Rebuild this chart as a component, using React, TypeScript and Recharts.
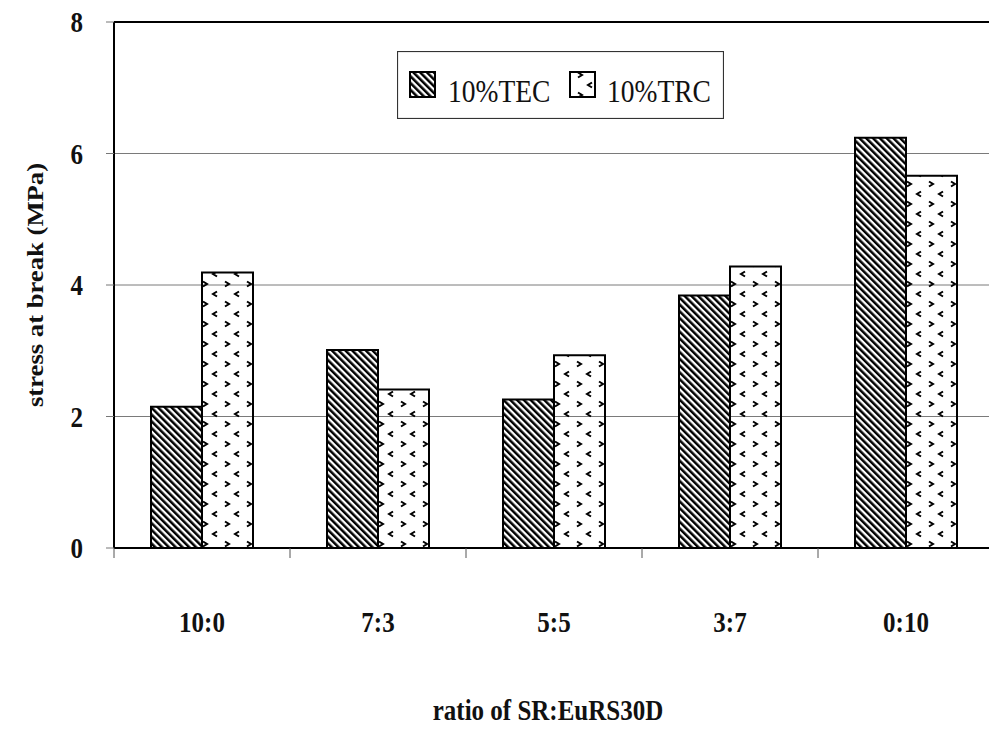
import React from "react";
import { BarChart, Bar, XAxis, YAxis, CartesianGrid, ReferenceLine, Legend } from "recharts";

const CATEGORIES = ["10:0", "7:3", "5:5", "3:7", "0:10"];
const TEC = [2.15, 3.01, 2.26, 3.84, 6.24];
const TRC = [4.19, 2.41, 2.93, 4.28, 5.66];
const Y_TICKS = [0, 2, 4, 6, 8];
const SERIES = ["10%TEC", "10%TRC"];

const data = CATEGORIES.map((ratio, i) => ({ ratio, tec: TEC[i], trc: TRC[i] }));

const FONT = '"Liberation Serif", "Times New Roman", serif';
const STRETCH = 1.16; // the scan is taller than it is wide

// hatch + chevron fills, shared by bars and legend
const Patterns = () => (
  <svg width={0} height={0} style={{ position: "absolute" }}>
    <defs>
      <pattern id="tecHatch" patternUnits="userSpaceOnUse" width={4.8} height={4.8} patternTransform="rotate(-45)">
        <rect x={0} y={0} width={4.8} height={4.8} fill="#fff" />
        <rect x={0} y={0} width={2.5} height={4.8} fill="#000" />
      </pattern>
      <pattern id="trcDots" patternUnits="userSpaceOnUse" width={22} height={20}>
        <path d="M5,1.5 L9,4 L5,6.5" stroke="#000" strokeWidth={2} fill="none" />
        <path d="M19,11.5 L15,14 L19,16.5" stroke="#000" strokeWidth={2} fill="none" />
      </pattern>
    </defs>
  </svg>
);

const XTick = (props: any) => {
  const { x, y, payload, width } = props;
  const band = (width || 880) / CATEGORIES.length;
  return (
    <g>
      <line x1={x - band / 2} x2={x - band / 2} y1={y} y2={y + 10} stroke="#555" strokeWidth={1} />
      <text
        transform={`translate(${x},${y + 84}) scale(1,${STRETCH})`}
        textAnchor="middle"
        fontFamily={FONT}
        fontWeight="bold"
        fontSize={25}
        fill="#111"
      >
        {payload.value}
      </text>
    </g>
  );
};

const YTick = (props: any) => {
  const { x, y, payload } = props;
  return (
    <text
      transform={`translate(${x},${y}) scale(1,${STRETCH})`}
      dy="0.35em"
      textAnchor="end"
      fontFamily={FONT}
      fontWeight="bold"
      fontSize={25}
      fill="#111"
    >
      {payload.value}
    </text>
  );
};

const YTitle = (props: any) => {
  const vb = props.viewBox || { x: 0, y: 22, width: 114, height: 526 };
  const cy = vb.y + vb.height / 2;
  return (
    <text
      transform={`translate(43,${cy}) rotate(-90) scale(${STRETCH},1)`}
      textAnchor="middle"
      fontFamily={FONT}
      fontWeight="bold"
      fontSize={23}
      fill="#111"
    >
      stress at break (MPa)
    </text>
  );
};

const XTitle = (props: any) => {
  const vb = props.viewBox || { x: 114, y: 548, width: 880, height: 181 };
  return (
    <text
      transform={`translate(${vb.x + vb.width / 2 - 6},${vb.y + vb.height - 9}) scale(1,${STRETCH})`}
      textAnchor="middle"
      fontFamily={FONT}
      fontWeight="bold"
      fontSize={25}
      fill="#111"
    >
      ratio of SR:EuRS30D
    </text>
  );
};

const LegendBox = () => (
  <svg width={327} height={68} style={{ display: "block" }}>
    <rect x={0.5} y={0.5} width={326} height={67} fill="#fff" stroke="#333" strokeWidth={1.2} />
    <rect x={13} y={21} width={25} height={25} fill="url(#tecHatch)" stroke="#000" strokeWidth={2} />
    <text transform={`translate(51,51) scale(1,${STRETCH})`} fontFamily={FONT} fontSize={27.5} fill="#111">
      {SERIES[0]}
    </text>
    <rect x={173} y={21} width={25} height={25} fill="url(#trcDots)" stroke="#000" strokeWidth={2} />
    <text transform={`translate(210,51) scale(1,${STRETCH})`} fontFamily={FONT} fontSize={27.5} fill="#111">
      {SERIES[1]}
    </text>
  </svg>
);

export default function App() {
  return (
    <div
      style={{
        position: "absolute",
        left: 0,
        top: 0,
        width: 989,
        height: 729,
        overflow: "hidden",
        background: "#fff",
      }}
    >
      <Patterns />
      <BarChart
        width={1000}
        height={729}
        data={data}
        margin={{ top: 22, right: 6, left: 0, bottom: 0 }}
        barCategoryGap={37}
        barGap={0}
      >
        <CartesianGrid vertical={false} stroke="#7a7a7a" strokeWidth={1} />
        <XAxis
          dataKey="ratio"
          height={181}
          axisLine={{ stroke: "#000", strokeWidth: 2 }}
          tickLine={false}
          tickSize={0}
          tickMargin={0}
          tick={<XTick />}
          interval={0}
          label={(p: any) => <XTitle {...p} />}
        />
        <YAxis
          width={114}
          domain={[0, 8]}
          ticks={Y_TICKS}
          allowDataOverflow
          axisLine={{ stroke: "#000", strokeWidth: 2 }}
          tickLine={{ stroke: "#777", strokeWidth: 1 }}
          tickSize={8}
          tickMargin={23}
          tick={<YTick />}
          label={(p: any) => <YTitle {...p} />}
        />
        <ReferenceLine y={8} stroke="#000" strokeWidth={2} />
        <Legend
          layout="horizontal"
          verticalAlign="middle"
          align="center"
          content={() => <LegendBox />}
          wrapperStyle={{ left: 397, top: 51, width: 327, height: 68 }}
        />
        <Bar dataKey="tec" name={SERIES[0]} fill="url(#tecHatch)" stroke="#000" strokeWidth={2} isAnimationActive={false} />
        <Bar dataKey="trc" name={SERIES[1]} fill="url(#trcDots)" stroke="#000" strokeWidth={2} isAnimationActive={false} />
      </BarChart>
    </div>
  );
}
